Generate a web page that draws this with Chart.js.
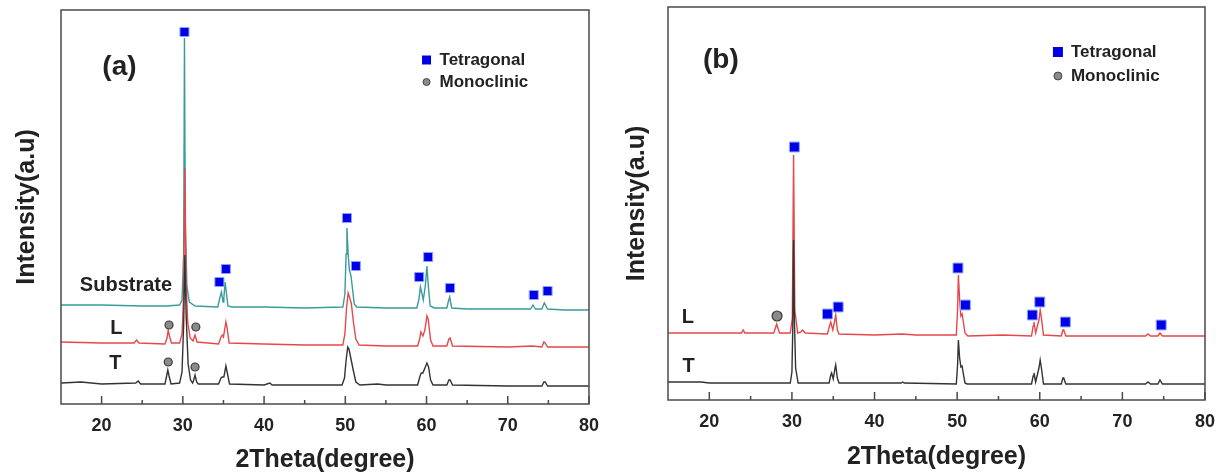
<!DOCTYPE html>
<html>
<head>
<meta charset="utf-8">
<script src="https://cdn.jsdelivr.net/npm/chart.js@4.4.0/dist/chart.umd.min.js"></script>
<style>
  html, body { margin: 0; padding: 0; background: #fff; }
  #wrap { position: relative; width: 1226px; height: 475px; }
  .panel { position: absolute; top: 0; height: 475px; }
</style>
</head>
<body>
<div id="wrap">
  <div class="panel" style="left:0;width:610px"><canvas id="chart_a" width="610" height="475"></canvas></div>
  <div class="panel" style="left:610px;width:616px"><canvas id="chart_b" width="616" height="475"></canvas></div>
</div>
<script>
"use strict";

// ---- panel (a): [2theta, intensity] ----
const a_substrate = [
  [15,99],[20,99],[25,98],[28,98],[29.6,99],[29.9,104],[30.1,150],[30.2,366],[30.3,180],[30.5,118],[30.8,102],
  [31.5,98],[34.3,97],[34.55,106],[34.75,112],[34.95,102],[35.05,106],[35.2,122],[35.35,112],[35.55,98],
  [36,97],[40,97],[45,96],[49.7,97],[49.95,110],[50.1,150],[50.2,176],[50.35,150],[50.5,134],[50.7,128],
  [50.85,118],[51.1,100],[51.4,97],[55,96],[58.8,96],[59.05,104],[59.25,117],[59.45,110],[59.6,104],
  [59.85,118],[60.05,138],[60.2,120],[60.45,98],[61,96],[62.5,96],[62.7,103],[62.85,107],[63.1,96],
  [65,95],[72.8,95],[73.1,99],[73.4,95],[74.2,95],[74.5,101],[74.9,95],[77,94],[80,94]
];
const a_L = [
  [15,62],[20,61],[24,61],[24.3,64],[24.6,61],[27.8,60],[28.05,66],[28.2,74],[28.35,68],[28.6,61],
  [29.6,61],[29.9,70],[30.1,110],[30.25,236],[30.4,120],[30.6,82],[30.9,66],[31.25,63],[31.5,69],
  [31.75,62],[34.4,60],[34.7,67],[34.85,69],[35.0,67],[35.3,82],[35.45,76],[35.7,61],[40,60],[45,59],
  [49.7,59],[49.95,70],[50.15,96],[50.35,111],[50.55,106],[50.75,100],[51.0,82],[51.3,65],[51.7,59],
  [55,58],[58.9,58],[59.15,65],[59.3,72],[59.55,68],[59.8,74],[60.05,88],[60.2,85],[60.5,64],[60.8,58],
  [62.5,58],[62.75,65],[62.9,66],[63.2,58],[70,57],[73,58],[74.2,57],[74.45,62],[74.6,61],[74.9,57],[80,57]
];
const a_T = [
  [15,21],[17.5,22],[20,20],[24.2,21],[24.5,23],[24.8,20],[27.8,20],[28.0,28],[28.15,34],[28.3,28],
  [28.55,20],[29.6,21],[29.9,32],[30.1,80],[30.25,149],[30.4,90],[30.65,40],[30.95,24],[31.2,21],
  [31.3,23],[31.5,29],[31.7,22],[31.9,20],[34.4,20],[34.7,26],[34.85,27],[35.05,27],[35.3,38],[35.5,30],
  [35.75,20],[40,19],[40.7,21],[41,19],[45,19],[49.6,19],[49.9,26],[50.1,44],[50.3,57],[50.45,55],
  [50.7,45],[51.0,33],[51.3,22],[51.8,19],[54,20],[55,19],[58.9,19],[59.2,28],[59.35,31],[59.55,31],
  [59.8,36],[60.05,41],[60.25,37],[60.5,24],[60.8,19],[62.5,19],[62.75,24],[62.9,24],[63.2,19],[70,18],
  [74.2,18],[74.45,22],[74.6,22],[74.9,18],[80,18]
];
const a_tetragonal = [
  [30.2,372],[34.5,122],[35.3,135],[50.2,186],[51.3,138],[59.1,127],[60.2,147],[62.9,116],[73.2,109],[74.9,113]
];
const a_monoclinic = [[28.3,79],[31.6,77],[28.2,42],[31.5,37]];

// ---- panel (b) ----
const b_L = [
  [15,67],[20,67],[23.9,67],[24.1,70],[24.3,67],[27.8,67],[28.0,72],[28.15,76],[28.3,72],[28.5,67],
  [29.8,67],[30.05,82],[30.2,245],[30.35,90],[30.7,67],[31.1,68],[31.3,70],[31.6,67],[34.3,66],[34.55,74],
  [34.7,78],[34.95,70],[35.15,78],[35.3,85],[35.5,70],[35.7,66],[40,65],[43.3,66],[45,65],[49.9,65],
  [50.05,90],[50.15,125],[50.3,100],[50.45,84],[50.6,86],[50.75,78],[50.95,67],[51.3,64],[55.5,65],
  [59.0,64],[59.2,74],[59.3,78],[59.5,67],[59.9,80],[60.05,90],[60.2,82],[60.45,65],[62.6,64],[62.8,70],
  [62.9,70],[63.15,64],[72.8,64],[73.1,66],[73.4,64],[74.3,64],[74.55,67],[74.85,64],[80,64]
];
const b_T = [
  [15,18],[19,18],[20,17],[29.8,17],[30.0,28],[30.1,70],[30.2,160],[30.3,80],[30.45,32],[30.75,17],
  [34.5,17],[34.7,25],[34.8,27],[35.0,21],[35.2,31],[35.3,35],[35.5,22],[35.7,17],[43.2,17],[43.4,18],
  [43.6,17],[49.9,16],[50.05,35],[50.15,60],[50.3,42],[50.45,33],[50.6,34],[50.75,26],[50.95,17],
  [51.2,16],[59.0,16],[59.2,24],[59.3,27],[59.5,18],[59.9,32],[60.05,40],[60.2,32],[60.45,16],[62.6,16],
  [62.8,22],[62.9,22],[63.15,16],[72.8,16],[73.1,18],[73.4,16],[74.3,16],[74.55,20],[74.85,16],[80,16]
];
const b_tetragonal = [
  [30.3,253],[34.3,86],[35.6,93],[50.1,132],[51.0,95],[59.1,85],[60.0,98],[63.1,78],[74.7,75]
];
const b_monoclinic = [[28.2,84]];

const x_ticks = [20, 30, 40, 50, 60, 70, 80];
const x_minor = [25, 35, 45, 55, 65, 75];

const C_SUB = '#3a9b9a';
const C_L = '#e5484a';
const C_T = '#333333';
const C_SQ = '#0000e6';
const C_CIRC = '#8a8a8a';

Chart.defaults.font.family = "'Liberation Sans', Arial, sans-serif";
Chart.defaults.color = '#222';

function _xy(_pairs) {
  return _pairs.map(function(_p) { return {x: _p[0], y: _p[1]}; });
}

// frame, inward ticks, labels and the little legend
const xrdDecor = {
  id: 'xrdDecor',
  afterDraw(_chart, _args, _opts) {
    const _ctx = _chart.ctx;
    const _a = _chart.chartArea;
    const _sx = _chart.scales.x;
    const _sy = _chart.scales.y;

    _ctx.save();
    _ctx.strokeStyle = '#4a4a4a';
    _ctx.lineWidth = 1.5;
    _ctx.strokeRect(_a.left, _a.top, _a.right - _a.left, _a.bottom - _a.top);

    // ticks go inside, from the bottom edge
    _ctx.beginPath();
    x_ticks.forEach(function(_v) {
      const _px = _sx.getPixelForValue(_v);
      _ctx.moveTo(_px, _a.bottom); _ctx.lineTo(_px, _a.bottom - 8);
    });
    x_minor.forEach(function(_v) {
      const _px = _sx.getPixelForValue(_v);
      _ctx.moveTo(_px, _a.bottom); _ctx.lineTo(_px, _a.bottom - 4);
    });
    _ctx.stroke();

    // curve names and panel letter
    _ctx.fillStyle = '#222';
    _ctx.textAlign = 'center';
    _ctx.textBaseline = 'middle';
    _opts.labels.forEach(function(_l) {
      _ctx.font = 'bold ' + _l.size + "px 'Liberation Sans', Arial, sans-serif";
      _ctx.fillText(_l.text, _sx.getPixelForValue(_l.x), _sy.getPixelForValue(_l.y));
    });

    // legend
    const _lg = _opts.legend;
    const _lx = _sx.getPixelForValue(_lg.x);
    const _y1 = _sy.getPixelForValue(_lg.y1);
    const _y2 = _sy.getPixelForValue(_lg.y2);
    const _h = _lg.sq;
    _ctx.fillStyle = C_SQ;
    _ctx.fillRect(_lx - _h / 2, _y1 - _h / 2, _h, _h);
    _ctx.beginPath();
    _ctx.arc(_lx, _y2, _lg.r, 0, Math.PI * 2);
    _ctx.fillStyle = C_CIRC;
    _ctx.fill();
    _ctx.strokeStyle = '#444';
    _ctx.lineWidth = 1;
    _ctx.stroke();
    _ctx.fillStyle = '#222';
    _ctx.textAlign = 'left';
    _ctx.font = "bold 17px 'Liberation Sans', Arial, sans-serif";
    _ctx.fillText('Tetragonal', _lx + 13, _y1);
    _ctx.fillText('Monoclinic', _lx + 13, _y2);
    _ctx.restore();
  }
};

function _make_chart(_id, _o) {

  const _datasets = [];

  _datasets.push({
    type: 'scatter', label: 'Tetragonal', data: _xy(_o.tetragonal),
    pointStyle: 'rect', pointRadius: _o.sqRadius, backgroundColor: C_SQ,
    borderColor: '#8ea2ff', borderWidth: 1, order: 0
  });
  _datasets.push({
    type: 'scatter', label: 'Monoclinic', data: _xy(_o.monoclinic),
    pointStyle: 'circle', pointRadius: _o.circRadius, backgroundColor: C_CIRC,
    borderColor: '#3a3a3a', borderWidth: 1.2, order: 0
  });

  _o.series.forEach(function(_s, _i) {
    _datasets.push({
      type: 'line', label: _s.name, data: _xy(_s.data),
      borderColor: _s.color, borderWidth: 1.4, pointRadius: 0,
      tension: 0, fill: false, order: _i + 1
    });
  });

  return new Chart(document.getElementById(_id), {
    type: 'line',
    data: { datasets: _datasets },
    options: {
      responsive: false,
      animation: false,
      events: [],
      layout: {
        autoPadding: false,
        padding: { left: 0, top: _o.top, right: _o.right, bottom: 0 }
      },
      plugins: {
        legend: { display: false },
        tooltip: { enabled: false },
        xrdDecor: { labels: _o.labels, legend: _o.legend }
      },
      scales: {
        x: {
          type: 'linear', min: 15, max: 80,
          grid: { display: false, drawTicks: false },
          border: { display: false },
          afterBuildTicks: function(_s) { _s.ticks = x_ticks.map(function(_v) { return {value: _v}; }); },
          afterFit: function(_s) { _s.height = _o.xHeight; },
          ticks: { autoSkip: false, maxRotation: 0, padding: 11, color: '#222',
                   font: { size: 18, weight: 'bold' } },
          title: { display: true, text: '2Theta(degree)', color: '#222',
                   font: { size: 25, weight: 'bold' }, padding: { top: 0, bottom: _o.titlePad } }
        },
        y: {
          type: 'linear', min: 0, max: _o.ymax,
          grid: { display: false, drawTicks: false },
          border: { display: false },
          ticks: { display: false },
          afterFit: function(_s) { _s.width = _o.yWidth; },
          title: { display: true, text: 'Intensity(a.u)', color: '#222',
                   font: { size: 25, weight: 'bold' }, padding: { top: 12, bottom: 0 } }
        }
      }
    },
    plugins: [xrdDecor]
  });
}

_make_chart('chart_a', {
  top: 10, right: 16, xHeight: 71, yWidth: 61, ymax: 394, titlePad: 0,
  sqRadius: 6.4, circRadius: 4,
  tetragonal: a_tetragonal, monoclinic: a_monoclinic,
  series: [
    { name: 'T', data: a_T, color: C_T },
    { name: 'L', data: a_L, color: C_L },
    { name: 'Substrate', data: a_substrate, color: C_SUB }
  ],
  labels: [
    { text: '(a)', x: 22.2, y: 337, size: 28 },
    { text: 'Substrate', x: 23.0, y: 119, size: 20 },
    { text: 'L', x: 21.8, y: 76, size: 20 },
    { text: 'T', x: 21.7, y: 41, size: 20 }
  ],
  legend: { x: 60.0, y1: 344, y2: 322, sq: 9, r: 3.5 }
});

_make_chart('chart_b', {
  top: 7, right: 20, xHeight: 75, yWidth: 58, ymax: 393, titlePad: 3,
  sqRadius: 7, circRadius: 5,
  tetragonal: b_tetragonal, monoclinic: b_monoclinic,
  series: [
    { name: 'T', data: b_T, color: C_T },
    { name: 'L', data: b_L, color: C_L }
  ],
  labels: [
    { text: '(b)', x: 21.4, y: 340, size: 28 },
    { text: 'L', x: 17.4, y: 83, size: 20 },
    { text: 'T', x: 17.5, y: 34, size: 20 }
  ],
  legend: { x: 62.2, y1: 348, y2: 324, sq: 10, r: 4 }
});
</script>
</body>
</html>
